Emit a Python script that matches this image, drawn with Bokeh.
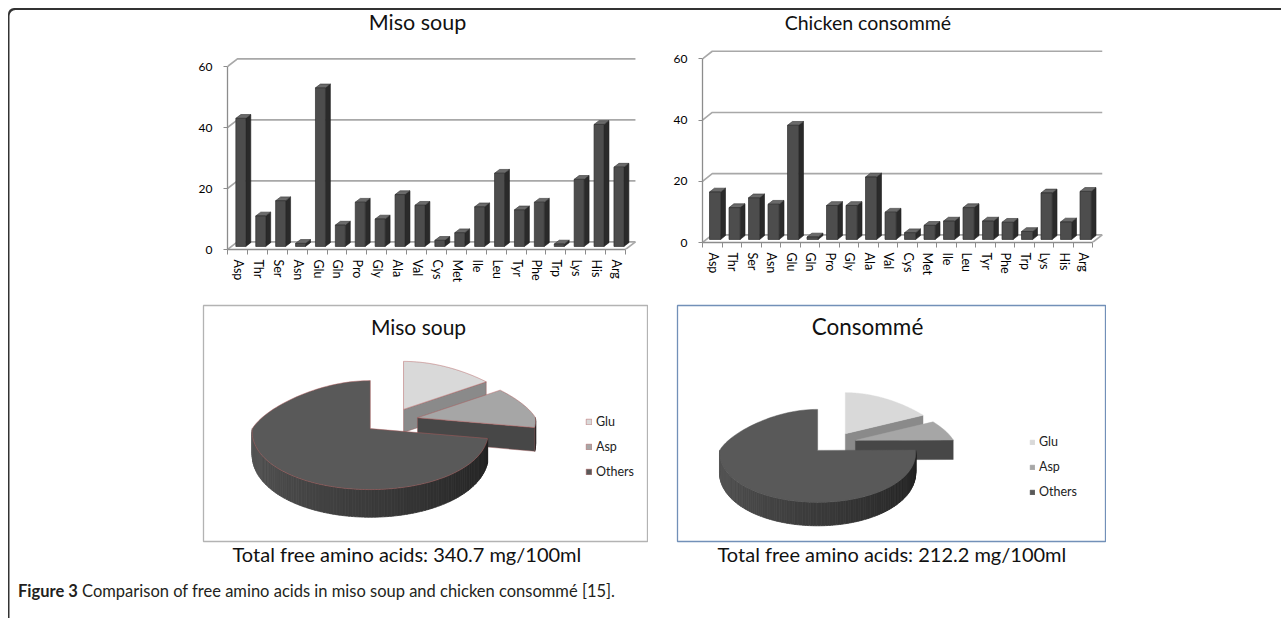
import numpy as np
from bokeh.plotting import figure
from bokeh.models import Range1d, FixedTicker, Title, Legend, LegendItem, Spacer, Div, Column, Row
from bokeh.core.properties import value
from bokeh.embed import file_html
from bokeh.resources import INLINE

# ---------------- data ----------------
amino_acids = ["Asp", "Thr", "Ser", "Asn", "Glu", "Gln", "Pro", "Gly", "Ala", "Val",
               "Cys", "Met", "Ile", "Leu", "Tyr", "Phe", "Trp", "Lys", "His", "Arg"]
miso_values = [42, 10, 15, 1, 52, 7, 14.5, 9, 17, 13.5, 2, 4.5, 13, 24, 12, 14.5, 0.8, 22, 40, 26]
consomme_values = [15.5, 10.4, 13.6, 11.5, 37.3, 0.8, 11.1, 11.1, 20.4, 8.9,
                   2.2, 4.6, 6.0, 10.4, 6.0, 5.6, 2.6, 15.2, 5.7, 15.7]
y_ticks = [0, 20, 40, 60]
pie_labels = ["Glu", "Asp", "Others"]
miso_total = 340.7
consomme_total = 212.2

FONT = "Lato"


def bar_chart(title, vals, frame_w, frame_h, border_bottom, ppx_x, ppx_y,
              bar_l, bar_r, title_x, title_y, title_size):
    off = 0.55
    n = len(vals)
    x0 = -off
    p = figure(width=40 + frame_w, height=frame_h + border_bottom,
               x_range=Range1d(x0, x0 + frame_w / ppx_x), y_range=Range1d(0, frame_h / ppx_y),
               output_backend="svg", toolbar_location=None, title=None,
               min_border_left=40, min_border_right=0, min_border_top=0,
               min_border_bottom=border_bottom, frame_align=False)
    p.background_fill_color = None
    p.border_fill_color = None
    p.outline_line_color = None
    p.grid.visible = False

    wall_dx, wall_dy = 0.5, 2.5
    gx, gy = [], []
    for t in y_ticks:
        gx.append([x0, x0 + wall_dx, x0 + n + wall_dx])
        gy.append([t, t + wall_dy, t + wall_dy])
    gx.append([x0 + n, x0 + n + wall_dx])
    gy.append([0, wall_dy])
    p.multi_line(gx, gy, line_color="#a8a8a8", line_width=1.6)

    xs = np.arange(n)
    v = np.array(vals, dtype=float)
    fl = xs + bar_l - off
    fr = xs + bar_r - off
    b0 = 1.0
    ddx, ddy = 0.25, 1.25
    side_xs = [[r, r + ddx, r + ddx, r] for r in fr]
    side_ys = [[b0, b0 + ddy, b0 + h + ddy, b0 + h] for h in v]
    top_xs = [[l, r, r + ddx, l + ddx] for l, r in zip(fl, fr)]
    top_ys = [[b0 + h, b0 + h, b0 + h + ddy, b0 + h + ddy] for h in v]
    p.patches(side_xs, side_ys, fill_color="#2a2a2a", line_color="#1e1e1e", line_width=0.6)
    p.patches(top_xs, top_ys, fill_color="#6a6a6a", line_color="#333333", line_width=0.6)
    p.quad(left=fl, right=fr, bottom=b0, top=v + b0, fill_color="#4d4d4d",
           line_color="#2e2e2e", line_width=0.7)

    p.text(x=[title_x], y=[title_y], text=[title], text_font=value(FONT),
           text_font_size=title_size, text_align="center", text_baseline="middle",
           text_color="#111111")

    ya = p.yaxis[0]
    ya.ticker = FixedTicker(ticks=y_ticks)
    ya.bounds = (0, 60)
    ya.axis_line_color = "#8c8c8c"
    ya.axis_line_width = 1.3
    ya.major_tick_line_color = "#8c8c8c"
    ya.major_tick_line_width = 1.2
    ya.major_tick_out = 4
    ya.major_tick_in = 0
    ya.minor_tick_line_color = None
    ya.major_label_text_font = FONT
    ya.major_label_text_font_size = "12px"
    ya.major_label_text_color = "#000000"
    ya.major_label_standoff = 11

    xa = p.xaxis[0]
    xa.ticker = FixedTicker(ticks=list(range(n)), minor_ticks=[i - off for i in range(n + 1)])
    xa.major_label_overrides = {i: name for i, name in enumerate(amino_acids)}
    xa.bounds = (x0, x0 + n)
    xa.axis_line_color = "#8c8c8c"
    xa.axis_line_width = 1.3
    xa.major_tick_line_color = None
    xa.major_tick_out = 0
    xa.major_tick_in = 0
    xa.minor_tick_line_color = "#8c8c8c"
    xa.minor_tick_out = 5
    xa.minor_tick_in = 0
    xa.major_label_orientation = "vertical"
    xa.major_label_text_font = FONT
    xa.major_label_text_font_size = "12.5px"
    xa.major_label_text_color = "#000000"
    xa.major_label_standoff = 5
    return p


def pie_chart(title, vals, frame_w, frame_h, center, a, b_top, b_bot, thick,
              explode, title_xy, title_size, outline_color, edge_color, legend_loc, glyph,
              legend_line, subtitle, sub_offset):
    p = figure(width=frame_w + 2, height=frame_h + 31,
               x_range=Range1d(0, frame_w), y_range=Range1d(0, frame_h),
               output_backend="svg", toolbar_location=None, title=None,
               min_border_left=1, min_border_right=1, min_border_top=1, min_border_bottom=30,
               frame_align=False)
    p.axis.visible = False
    p.grid.visible = False
    p.outline_line_color = outline_color
    p.outline_line_width = 1.3
    p.border_fill_color = None

    top_colors = ["#d9d9d9", "#a6a6a6", "#595959"]
    face_colors = ["#8a8a8a", "#474747", "#333333"]

    v = np.array(vals, dtype=float)
    frac = v / v.sum()
    ends = np.cumsum(frac) * 2 * np.pi
    starts = np.concatenate([[0.0], ends[:-1]])
    b_mid = 0.5 * (b_top + b_bot)

    def rim(th, apex):
        th = np.atleast_1d(th)
        X = np.sin(th)
        Z = np.cos(th)
        s = np.where(Z > 0, 1 - 0.25 * Z, 1 - 0.05 * Z)
        return apex[0] + a * X * s, apex[1] + np.where(Z > 0, b_top, b_bot) * Z

    def depth(th):
        return thick * (1 - 0.2 * np.minimum(np.cos(np.atleast_1d(th)), 0))

    tops = []
    for k in range(len(v)):
        ts, te = starts[k], ends[k]
        mid = 0.5 * (ts + te)
        apex = (center[0] + explode * a * np.sin(mid), center[1] + explode * b_mid * np.cos(mid))
        sx, sy, scol = [], [], []
        fx, fy, fcol, flin = [], [], [], []
        # visible outer rim (near half)
        r0, r1 = max(ts, np.pi / 2), min(te, 3 * np.pi / 2)
        if r1 > r0:
            nseg = max(2, int((r1 - r0) / np.radians(1.5)))
            edges = np.linspace(r0, r1, nseg + 1)
            for t0, t1 in zip(edges[:-1], edges[1:]):
                sub = np.linspace(t0, t1, 3)
                rx, ry = rim(sub, apex)
                d = depth(sub)
                sx.append(list(rx) + list(rx[::-1]))
                sy.append(list(ry) + list((ry - d)[::-1]))
                fr_ = (0.5 * (t0 + t1) - np.pi / 2) / np.pi
                g = int(30 + 58 * fr_)
                scol.append("#%02x%02x%02x" % (g, g, g))
        # cut faces
        for ang, ok in ((te, np.sin(te) > 1e-3), (ts, np.sin(ts) < -1e-3)):
            if ok:
                rx, ry = rim(ang, apex)
                d = depth(ang)[0]
                fx.append([apex[0], rx[0], rx[0], apex[0]])
                fy.append([apex[1], ry[0], ry[0] - d, apex[1] - thick])
                fcol.append(face_colors[k])
                flin.append(edge_color if edge_color else face_colors[k])
        if sx:
            p.patches(sx, sy, fill_color=scol, line_color=scol, line_width=0.8)
        if fx:
            p.patches(fx, fy, fill_color=fcol, line_color=flin, line_width=0.7, line_alpha=0.6)
        th = np.linspace(ts, te, 120)
        rx, ry = rim(th, apex)
        tx = [apex[0]] + list(rx)
        ty = [apex[1]] + list(ry)
        r = p.patch(tx, ty, fill_color=top_colors[k],
                    line_color=legend_line if legend_line else top_colors[k],
                    line_width=0.8, line_alpha=0.6)
        tops.append(r)

    p.text(x=[title_xy[0]], y=[title_xy[1]], text=[title], text_font=value(FONT),
           text_font_size=title_size, text_align="center", text_baseline="middle",
           text_color="#111111")

    legend = Legend(items=[LegendItem(label=l, renderers=[r]) for l, r in zip(pie_labels, tops)],
                    location=legend_loc, border_line_color=None, background_fill_alpha=0,
                    glyph_width=glyph, glyph_height=glyph, label_text_font=FONT,
                    label_text_font_size="12.5px", label_text_color="#222222",
                    spacing=10, padding=0, margin=0, label_standoff=4, label_height=14)
    p.add_layout(legend)

    p.add_layout(Title(text=subtitle, align="left", text_font=FONT, text_font_size="20px",
                       text_font_style="normal", text_color="#111111", standoff=-4,
                       offset=sub_offset), "below")
    return p


bar1 = bar_chart("Miso soup", miso_values, 412, 241, 55, 19.9, 3.05, 0.42, 0.92,
                 9.0, 74.5, "21.5px")
bar2 = bar_chart("Chicken consommé", consomme_values, 402, 234, 62, 19.5, 3.06, 0.36, 0.93,
                 7.93, 71.8, "19.5px")

miso_pie_vals = [miso_values[4], miso_values[0], miso_total - miso_values[4] - miso_values[0]]
cons_pie_vals = [consomme_values[4], consomme_values[0],
                 consomme_total - consomme_values[4] - consomme_values[0]]

pie1 = pie_chart("Miso soup", miso_pie_vals, 444, 236, (187.5, 121), 118, 48, 61, 23, 0.23,
                 (215, 215), "21px", "#b3b3b3", "#a05a5a", (382, 62), 7, "#b05a5a",
                 f"Total free amino acids: {miso_total} mg/100ml", 29)
pie2 = pie_chart("Consommé", cons_pie_vals, 428, 236, (156, 98.7), 98, 41, 52, 19.5, 0.23,
                 (190, 215), "22.5px", "#7290b8", None, (352, 42), 6, None,
                 f"Total free amino acids: {consomme_total} mg/100ml", 40)

caption = Div(text='<div style="padding:9px 0 0 10px; font-family:Lato; font-size:16.5px; color:#231f20;">'
                   '<b>Figure 3</b> Comparison of free amino acids in miso soup and chicken consommé [15].</div>',
              width=1273, height=47, margin=0)

row1 = Row(children=[Spacer(width=179, height=296), bar1, Spacer(width=23, height=296), bar2],
           height=296)
row2 = Row(children=[Spacer(width=194, height=267), pie1, Spacer(width=28, height=267), pie2],
           height=267)
inner = Column(children=[row1, row2, caption], width=1273, height=610,
               styles={"box-shadow": "inset 1.5px 2px 0 0 #333333",
                       "border-top-left-radius": "6px"})
layout = Column(children=[Spacer(width=1281, height=8),
                          Row(children=[Spacer(width=8, height=610), inner])],
                width=1281, height=618)

open("out.html", "w", encoding="utf-8").write(file_html(layout, INLINE))
